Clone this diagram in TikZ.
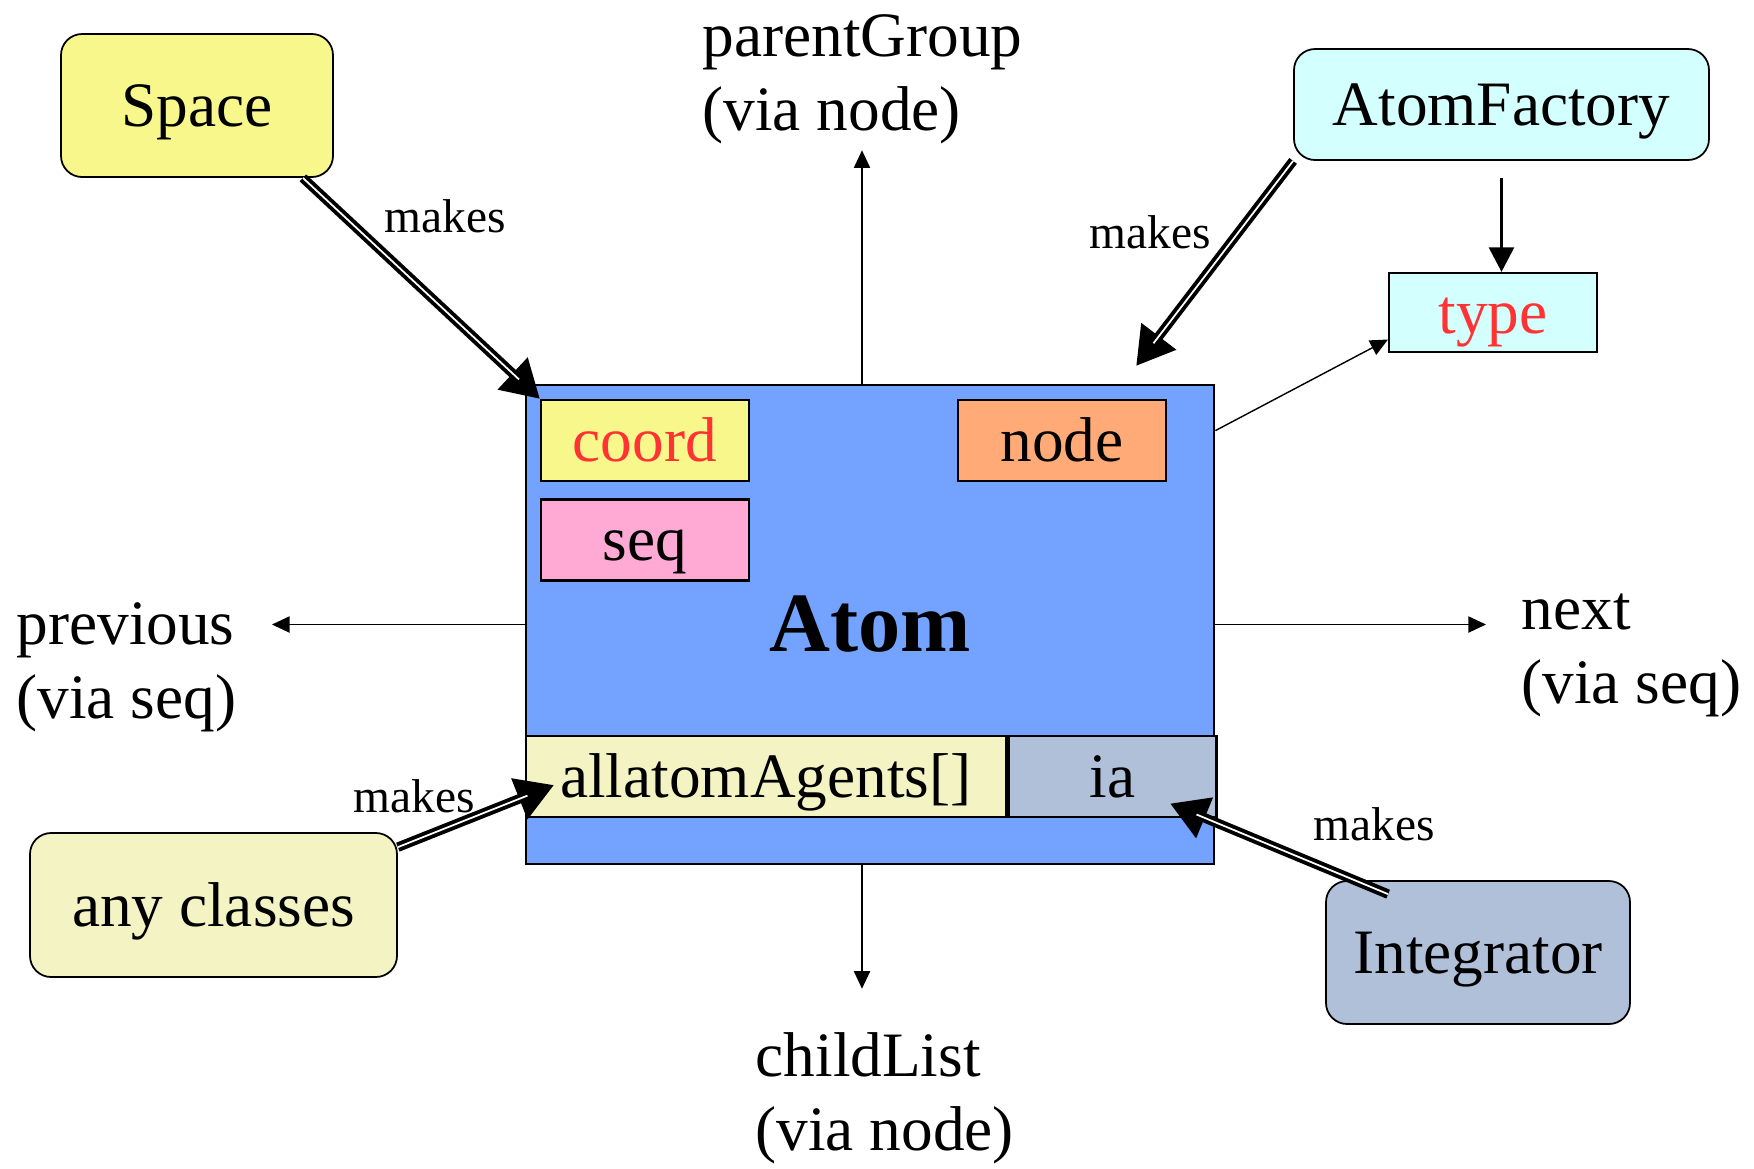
\documentclass[tikz,border=0pt]{standalone}
\usepackage{fontspec}
\setmainfont{Liberation Serif}
\usetikzlibrary{positioning, arrows.meta}

\definecolor{spaceyellow}{HTML}{F7F78C}
\definecolor{factorycyan}{HTML}{D4FFFF}
\definecolor{atomblue}{HTML}{73A3FF}
\definecolor{nodeorange}{HTML}{FFAA77}
\definecolor{seqpink}{HTML}{FFAAD5}
\definecolor{agentcream}{HTML}{F3F3C3}
\definecolor{iagray}{HTML}{B0C0D9}
\definecolor{typered}{HTML}{FF3333}

\begin{document}
\begin{tikzpicture}[
    big/.style={font=\fontsize{18}{21}\selectfont},
    boxtext/.style={big, text height=14pt, text depth=2pt},
    box/.style={
        rectangle,
        rounded corners=6pt,
        draw=black,
        line width=0.5pt,
        inner sep=0pt,
        boxtext
    },
    field/.style={
        rectangle,
        draw=black,
        line width=0.7pt,
        inner sep=0pt,
        minimum width=2.08cm,
        minimum height=0.81cm,
        boxtext
    },
    note/.style={align=left, inner sep=0pt, big},
    arrow/.style={
        -{Triangle[length=5pt,width=4.6pt]},
        line width=0.4pt
    },
    makes/.style={
        double=white,
        double distance=0.5pt,
        line width=1.1pt,
        shorten >=8pt
    },
    makestip/.style={
        -{Triangle[length=10.5pt,width=12.5pt]},
        line width=0.5pt
    },
    makeslabel/.style={inner sep=0pt, font=\fontsize{13.5}{16}\selectfont}
]
\useasboundingbox (0,0) rectangle (17.54,-11.68);

% the atom with its fields
\node[rectangle, draw=black, line width=0.8pt, fill=atomblue,
      minimum width=6.88cm, minimum height=4.79cm,
      font=\fontsize{24}{28}\selectfont\bfseries] (atom) at (8.70,-6.245) {Atom};
\node[field, fill=spaceyellow, text=typered, anchor=north west] (coordfield)
    at ([xshift=0.15cm,yshift=-0.15cm]atom.north west) {coord};
\node[field, fill=seqpink, below=0.16cm of coordfield] (seqfield) {seq};
\node[field, fill=nodeorange, anchor=north east] (nodefield)
    at ([xshift=-0.48cm,yshift=-0.15cm]atom.north east) {node};
\node[field, fill=agentcream, minimum width=4.80cm, anchor=south west] (agents)
    at ([yshift=0.47cm]atom.south west) {allatomAgents[]};
\node[field, fill=iagray, right=0pt of agents] (ia) {ia};

% classes around it
\node[box, fill=spaceyellow, minimum width=2.72cm, minimum height=1.43cm] (space) at (1.97,-1.055) {Space};
\node[box, fill=factorycyan, minimum width=4.15cm, minimum height=1.11cm] (factory) at (15.015,-1.045) {AtomFactory};
\node[rectangle, draw=black, line width=0.6pt, inner sep=0pt, boxtext, fill=factorycyan, text=typered,
      minimum width=2.08cm, minimum height=0.79cm] (type) at (14.93,-3.125) {type};
\node[box, fill=agentcream, minimum width=3.67cm, minimum height=1.44cm] (anyclasses) at (2.135,-9.05) {any classes};
\node[box, fill=iagray, minimum width=3.04cm, minimum height=1.43cm] (integrator) at (14.78,-9.525) {Integrator};

\node[note, anchor=west] (parent) at (7.02,-0.79) {parentGroup\\(via node)};
\node[note, anchor=west] (prev) at (0.16,-6.675) {previous\\(via seq)};
\node[note, anchor=west] (next) at (15.21,-6.555) {next\\(via seq)};
\node[note, anchor=west] (child) at (7.55,-10.98) {childList\\(via node)};

% links
\draw[arrow] ([xshift=-0.08cm]atom.north) -- ([xshift=-0.08cm,yshift=-0.06cm]atom.north |- parent.south);
\draw[arrow] ([xshift=-0.08cm]atom.south) -- ([xshift=-0.08cm,yshift=0.43cm]atom.south |- child.north);
\draw[arrow] (atom.west) -- ([xshift=0.35cm]prev.east |- atom.west);
\draw[arrow] (atom.east) -- ([xshift=-0.35cm]next.west |- atom.east);
\draw[arrow] ([yshift=-0.47cm]atom.north east) -- ([yshift=-0.27cm]type.west);
\draw[-{Triangle[length=7pt,width=7pt]}, line width=1.1pt] ([yshift=-0.17cm]factory.south) -- (factory.south |- type.north);

% makes
\draw[makestip] ([xshift=-0.31cm]space.south east) -- (coordfield.north west);
\draw[makes] ([xshift=-0.31cm]space.south east) -- (coordfield.north west);
\draw[makestip] (factory.south west) -- ([xshift=-0.79cm,yshift=0.18cm]atom.north east);
\draw[makes] (factory.south west) -- ([xshift=-0.79cm,yshift=0.18cm]atom.north east);
\draw[makestip] ([yshift=-0.15cm]anyclasses.north east) -- ([xshift=0.29cm,yshift=-0.085cm]agents.west);
\draw[makes] ([yshift=-0.15cm]anyclasses.north east) -- ([xshift=0.29cm,yshift=-0.085cm]agents.west);
\draw[makestip] ([xshift=0.63cm,yshift=-0.14cm]integrator.north west) -- ([xshift=-0.47cm,yshift=-0.27cm]ia.east);
\draw[makes] ([xshift=0.63cm,yshift=-0.14cm]integrator.north west) -- ([xshift=-0.47cm,yshift=-0.27cm]ia.east);

\node[makeslabel] (mk1) at (4.45,-2.16) {makes};
\node[makeslabel] (mk2) at (11.50,-2.32) {makes};
\node[makeslabel] (mk3) at (4.14,-7.96) {makes};
\node[makeslabel] (mk4) at (13.74,-8.24) {makes};

\end{tikzpicture}
\end{document}
